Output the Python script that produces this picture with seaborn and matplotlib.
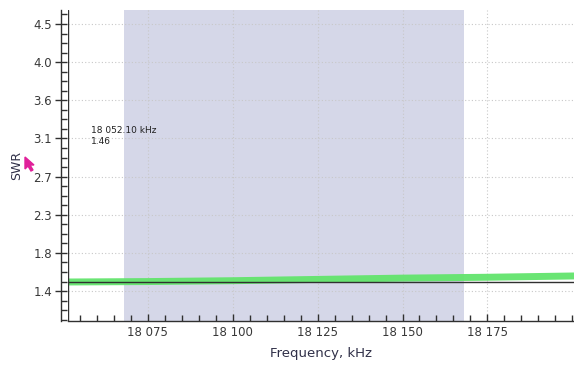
import numpy as np
import pandas as pd
import matplotlib
matplotlib.use('Agg')
import matplotlib.pyplot as plt
import seaborn as sns
from matplotlib.ticker import FixedLocator, MultipleLocator, AutoMinorLocator, FuncFormatter
from matplotlib.patches import Polygon

# dados
freq_khz = [18051.5, 18075, 18100, 18125, 18150, 18175, 18200.5]
swr = [1.505, 1.51, 1.52, 1.535, 1.55, 1.56, 1.575]
band_khz = [18068, 18168]
ref_swr = 1.505
freq_ticks = [18075, 18100, 18125, 18150, 18175]
swr_tick_labels = ['1.4', '1.8', '2.3', '2.7', '3.1', '3.6', '4.0', '4.5']
cursor_text = ['18 052.10 kHz', '1.46']

df = pd.DataFrame({'freq': freq_khz, 'swr': swr})

sns.set_style('white')
plt.rcParams['font.family'] = ['DejaVu Sans']

fig = plt.figure(figsize=(5.74, 3.68), dpi=100)
ax = fig.add_axes([68 / 574, 1 - 321 / 368, 1 - 68 / 574, 311 / 368])

# faixa da banda
ax.axvspan(band_khz[0], band_khz[1], color='#d5d7e8', lw=0, zorder=0)

# curva SWR e linha de referência
sns.lineplot(data=df, x='freq', y='swr', ax=ax, color='#62e46c', lw=5,
             alpha=0.95, zorder=3)
ax.axhline(ref_swr, color='#303030', lw=1.0, zorder=4)

swr_ticks = np.linspace(1.4, 4.5, len(swr_tick_labels))
step = swr_ticks[1] - swr_ticks[0]
ax.set_ylim(1.4 - step * 30 / 38.2, 4.5 + step * 14 / 38.2)
ax.set_xlim(freq_khz[0], freq_khz[-1])

ax.yaxis.set_major_locator(FixedLocator(swr_ticks))
ax.set_yticklabels(swr_tick_labels)
ax.yaxis.set_minor_locator(AutoMinorLocator(4))
ax.xaxis.set_major_locator(FixedLocator(freq_ticks))
ax.xaxis.set_minor_locator(MultipleLocator(5))
ax.xaxis.set_major_formatter(FuncFormatter(lambda v, p: f'{int(v):,}'.replace(',', ' ')))

ax.grid(True, which='major', color='#c8c8c8', lw=0.8, ls=(0, (1, 2)))
for s in ['top', 'right']:
    ax.spines[s].set_visible(False)
for s in ['left', 'bottom']:
    ax.spines[s].set_color('#303030')
    ax.spines[s].set_linewidth(1.0)
ax.spines['left'].set_position(('outward', 5))
ax.axvline(freq_khz[0], color='#303030', lw=1.0, zorder=5)

ax.tick_params(bottom=True, left=True, which='both')
ax.tick_params(axis='both', which='major', direction='in', length=5, width=1,
               color='#303030', labelsize=8.5, labelcolor='#383838')
ax.tick_params(axis='y', which='major', direction='inout', length=9, pad=2)
ax.tick_params(axis='both', which='minor', direction='in', length=4, width=1,
               color='#303030')

ax.set_xlabel('Frequency, kHz', fontsize=9.5, color='#303048', labelpad=6)
ax.set_ylabel('SWR', fontsize=9, color='#303048')
ax.yaxis.set_label_coords(-0.089, 0.5)

ax.text(0.045, 0.628, '\n'.join(cursor_text), transform=ax.transAxes,
        fontsize=6.5, color='#202020', va='top', ha='left', linespacing=1.4)

# cursor do mouse
pts = [(25, 157), (25, 169), (28, 166), (31, 171), (33, 170), (30, 165), (34, 165)]
fig.patches.append(Polygon([(x / 574, 1 - y / 368) for x, y in pts], closed=True,
                           transform=fig.transFigure, color='#e0209a', zorder=10))

fig.savefig('out.png', dpi=100)
